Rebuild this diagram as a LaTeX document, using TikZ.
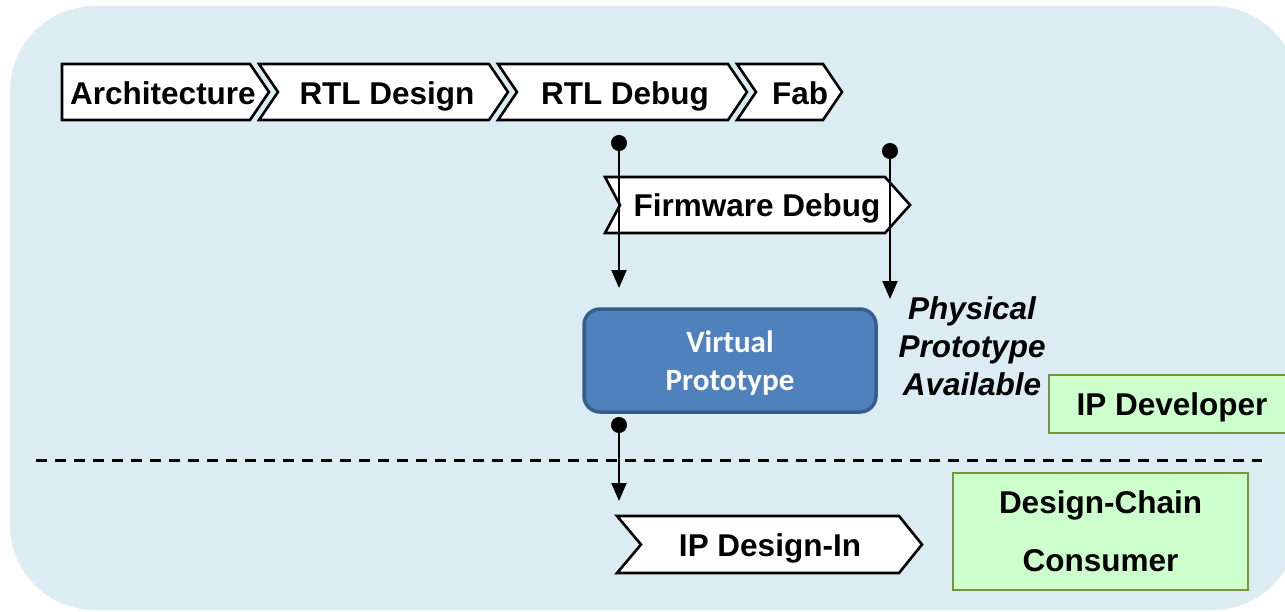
\documentclass[tikz,border=0pt]{standalone}
\usepackage{fontspec}
\setmainfont{Liberation Sans}
\newfontfamily\calfont{Carlito}
\usetikzlibrary{arrows.meta}
\definecolor{bgblue}{HTML}{DBEDF3}
\definecolor{boxgreen}{HTML}{CCFFCC}
\definecolor{boxgreenborder}{HTML}{77933C}
\definecolor{vpfill}{HTML}{4F81BD}
\definecolor{vpborder}{HTML}{385D8A}
% #1 left x, #2 notch depth, #3 right corner x, #4 tip depth, #5 top y, #6 bottom y
\newcommand{\mychev}[6]{%
  \draw[chev] (#1,#5) -- (#3,#5) -- ({#3+#4},{(#5+#6)/2}) -- (#3,#6) -- (#1,#6)
    -- ({#1+#2},{(#5+#6)/2}) -- cycle;}
\begin{document}
\begin{tikzpicture}[x=1pt,y=-1pt,
  chev/.style={draw=black,fill=white,line width=2.6pt,line join=miter},
  lbl/.style={font=\fontsize{31.5}{38}\selectfont\bfseries,inner sep=0pt,anchor=base,align=center},
  conn/.style={line width=2pt,{Circle[length=16pt]}-{Triangle[length=18pt,width=15pt]}},
  greenbox/.style={draw=boxgreenborder,fill=boxgreen,line width=2.5pt,inner sep=0pt,
    font=\fontsize{31.5}{38}\selectfont\bfseries,align=center},
  vpbox/.style={draw=vpborder,fill=vpfill,line width=3.5pt,rounded corners=16pt,inner sep=0pt},
  vplbl/.style={font=\calfont\fontsize{31}{38}\selectfont\bfseries,text=white,inner sep=0pt,anchor=base,align=center},
  sep/.style={line width=3pt,dash pattern=on 11pt off 8pt}
]
\clip (0,0) rectangle (1285,611);
\useasboundingbox (0,0) rectangle (1285,611);
\fill[bgblue,rounded corners=85pt] (10,6) rectangle (1298,610);

% top row chevrons
\mychev{62}{0}{250}{19}{64}{120}
\mychev{259}{19}{489}{19}{64}{120}
\mychev{498}{19}{728}{19}{64}{120}
\mychev{737}{19}{823}{19}{64}{120}
\node[lbl] (arch) at (163,104) {Architecture};
\node[lbl] (rtld) at (387,104) {RTL Design};
\node[lbl] (rtlb) at (625,104) {RTL Debug};
\node[lbl] (fab) at (800,104) {Fab};

% firmware debug
\mychev{605}{15}{885}{25}{177}{233}
\node[lbl] (fw) at (757,216) {Firmware Debug};

% virtual prototype
\node[vpbox,minimum width=292pt,minimum height=103pt] (vp) at (730,360.5) {};
\node[vplbl] (vptxt) at (730,390) {Virtual\\Prototype};

% physical prototype
\node[lbl,font=\fontsize{31.5}{38}\selectfont\bfseries\itshape] (phys) at (972,395) {Physical\\Prototype\\Available};

% IP developer
\node[greenbox,minimum width=246pt,minimum height=58pt,text depth=0pt] (ipdev) at (1172,404) {IP Developer};

% separator
\coordinate (sepL) at (36,460);
\coordinate (sepR) at (1262,460);
\draw[sep] (sepL) -- (sepR);

% IP design-in
\mychev{617}{24}{899}{23}{516}{573}
\node[lbl] (ipdi) at (770,556) {IP Design-In};

% design-chain consumer
\node[greenbox,minimum width=295pt,minimum height=117pt] (dcc) at (1100.5,531.5)
  {Design-Chain\\[20pt]Consumer};

% connectors
\coordinate (a1s) at (619,135);
\coordinate (a1e) at (619,288);
\coordinate (a2s) at (890,143);
\coordinate (a2e) at (890,299);
\coordinate (a3s) at (619,417);
\coordinate (a3e) at (619,501);
\draw[conn] (a1s) -- (a1e);
\draw[conn] (a2s) -- (a2e);
\draw[conn] (a3s) -- (a3e);
\end{tikzpicture}
\end{document}
